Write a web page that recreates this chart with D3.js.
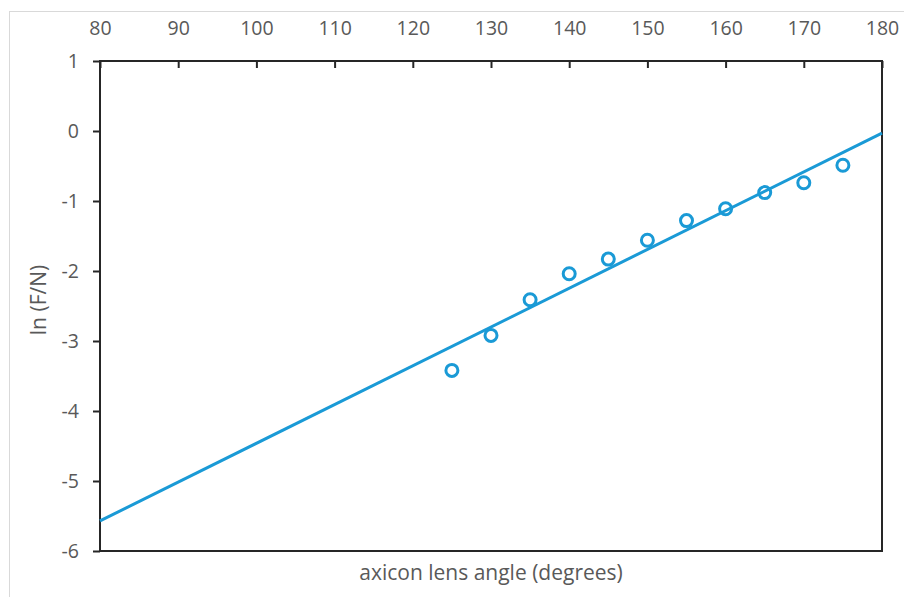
<!DOCTYPE html>
<html>
<head>
	<meta charset="UTF-8">
	<script src="https://d3js.org/d3.v7.min.js"></script>
	<style>
		body{ margin:0; background:#fff; }
		text{ font-family:"Open Sans", sans-serif; fill:#595959; }
	</style>
</head>
<body>
	<script type="text/javascript">
		// measured points
		var angles = [125, 130, 135, 140, 145, 150, 155, 160, 165, 170, 175];
		var lnFN = [-3.42, -2.92, -2.41, -2.04, -1.83, -1.56, -1.28, -1.11, -0.88, -0.74, -0.49];
		// linear fit line (end points)
		var fitX = [80, 180];
		var fitY = [-5.57, -0.03];
		var xTicks = [80, 90, 100, 110, 120, 130, 140, 150, 160, 170, 180];
		var yTicks = [1, 0, -1, -2, -3, -4, -5, -6];

		var w = 904, h = 597;
		var pLeft = 100, pRight = 882, pTop = 61, pBottom = 551;
		var blue = "#1a9ad6";
		var ink = "#262626";

		var x = d3.scaleLinear().domain([80, 180]).range([pLeft, pRight]);
		var y = d3.scaleLinear().domain([-6, 1]).range([pBottom, pTop]);

		var svg = d3.select("body").append("svg").attr("width", w).attr("height", h);

		// outer frame
		svg.append("rect").attr("x", 9.5).attr("y", 11.5).attr("width", 920).attr("height", 620)
			.attr("fill", "none").attr("stroke", "#d9d9d9").attr("stroke-width", 1);

		// plot box
		svg.append("rect").attr("x", pLeft).attr("y", pTop).attr("width", pRight - pLeft).attr("height", pBottom - pTop)
			.attr("fill", "none").attr("stroke", ink).attr("stroke-width", 2);

		// top axis, ticks pointing inside
		var xAxis = svg.append("g").attr("transform", "translate(0," + pTop + ")")
			.call(d3.axisTop(x).tickValues(xTicks).tickFormat(function(d){ return String(d); }).tickSize(-7).tickPadding(26));
		xAxis.select(".domain").remove();
		xAxis.selectAll("line").attr("stroke", ink).attr("stroke-width", 2);
		xAxis.selectAll("text").style("font-size", "19.5px").attr("fill", "#595959");

		// left axis
		var yAxis = svg.append("g").attr("transform", "translate(" + pLeft + ",0)")
			.call(d3.axisLeft(y).tickValues(yTicks).tickFormat(function(d){ return String(d); }).tickSize(7).tickPadding(14));
		yAxis.select(".domain").remove();
		yAxis.selectAll("line").attr("stroke", ink).attr("stroke-width", 2);
		yAxis.selectAll("text").style("font-size", "19.5px").attr("fill", "#595959");

		// fit line
		var line = d3.line().x(function(d){ return x(d[0]); }).y(function(d){ return y(d[1]); });
		svg.append("path").attr("d", line(d3.zip(fitX, fitY)))
			.attr("fill", "none").attr("stroke", blue).attr("stroke-width", 3);

		// data markers
		svg.append("g").selectAll("circle").data(d3.zip(angles, lnFN)).enter().append("circle")
			.attr("cx", function(d){ return x(d[0]); })
			.attr("cy", function(d){ return y(d[1]); })
			.attr("r", 6).attr("fill", "none").attr("stroke", blue).attr("stroke-width", 3);

		// axis titles
		svg.append("text").attr("x", (pLeft + pRight) / 2).attr("y", 580).attr("text-anchor", "middle")
			.style("font-size", "21px").text("axicon lens angle (degrees)");
		svg.append("text").attr("transform", "translate(46,300) rotate(-90)").attr("text-anchor", "middle")
			.style("font-size", "21px").text("ln (F/N)");
	</script>
</body>
</html>
